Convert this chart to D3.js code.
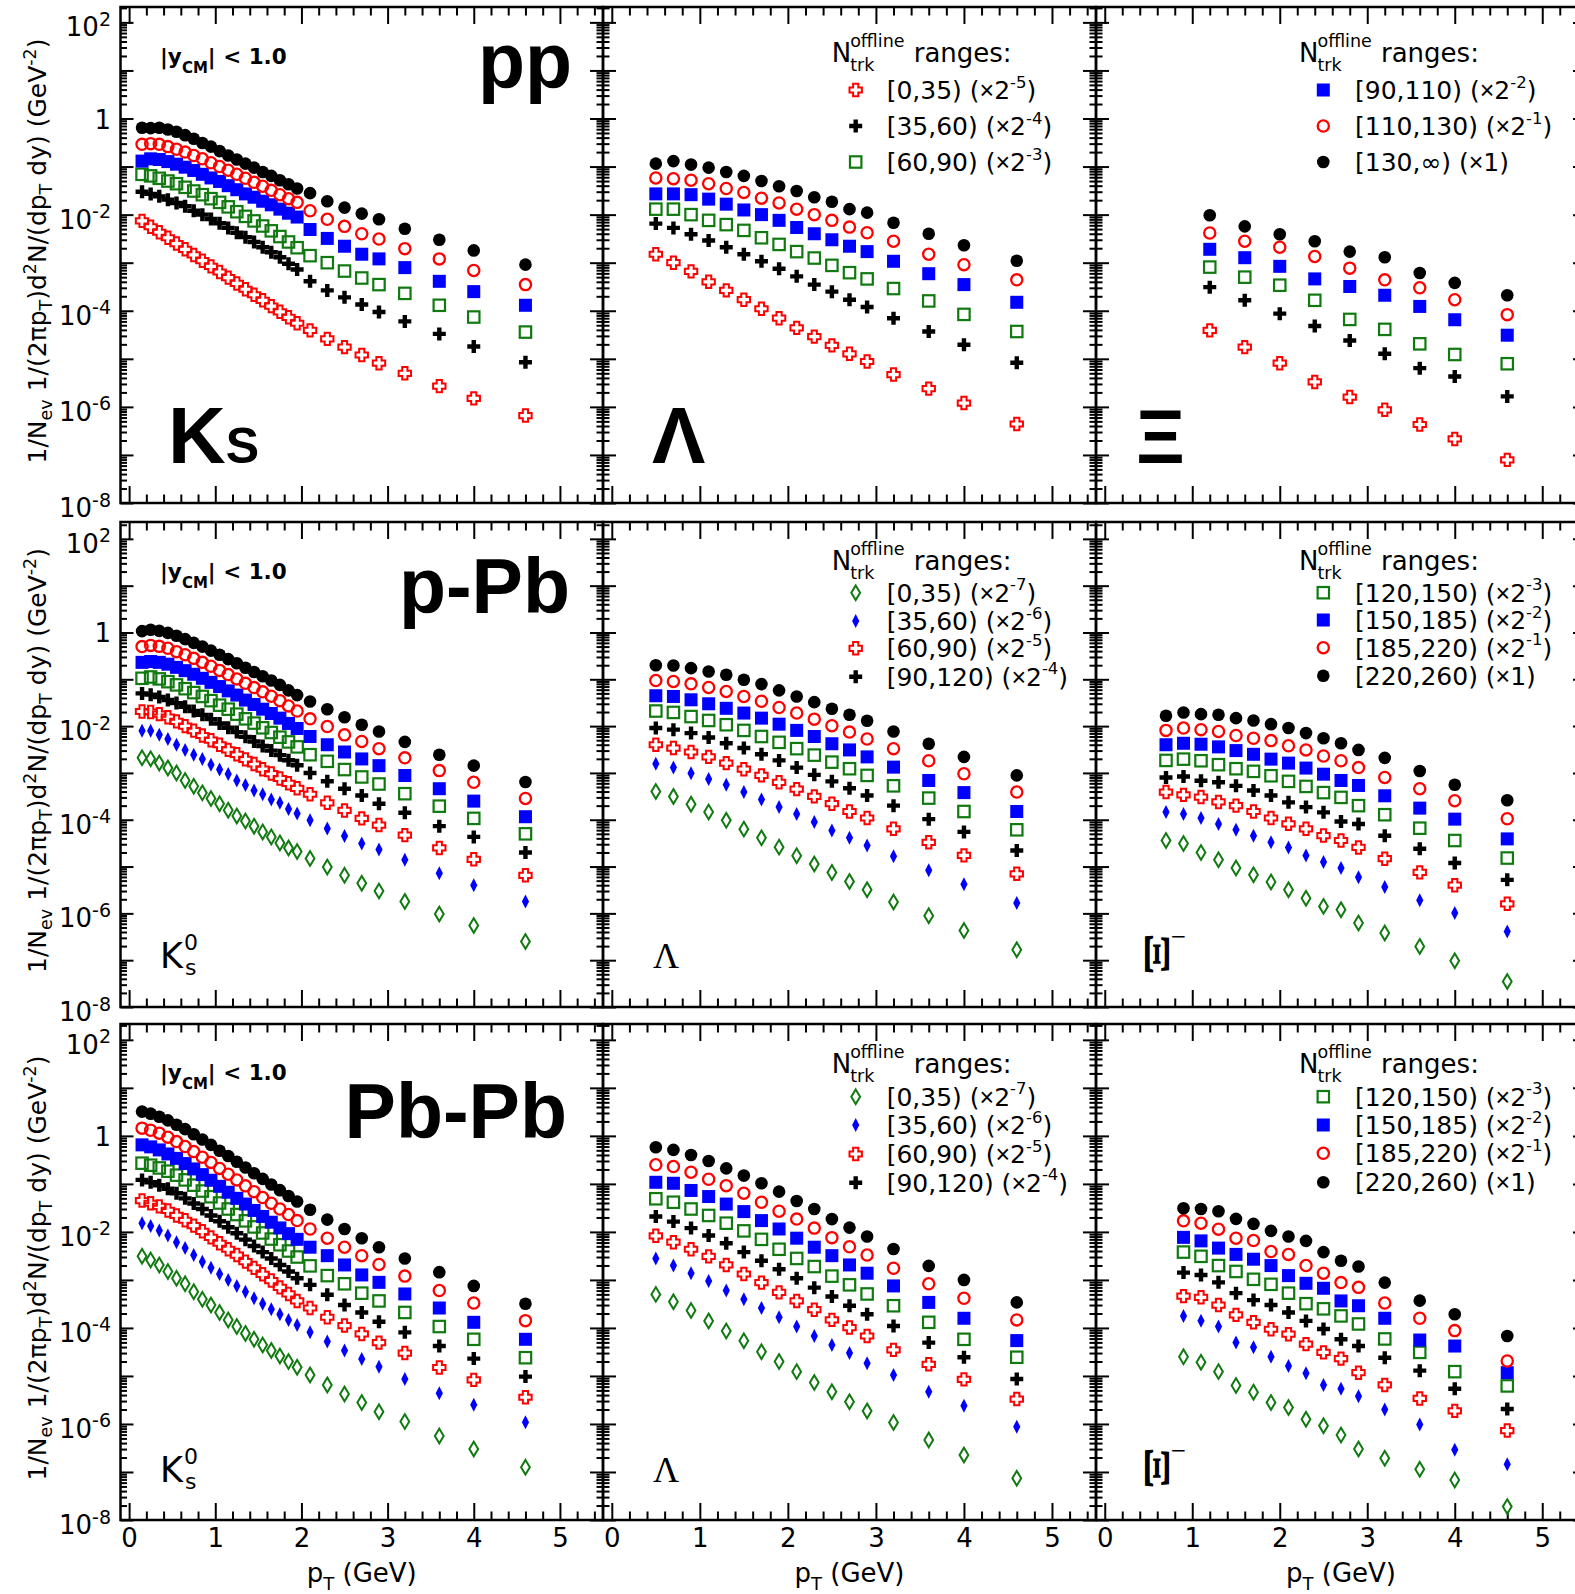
<!DOCTYPE html>
<html>
<head>
<meta charset="utf-8">
<script src="https://cdn.jsdelivr.net/npm/d3@7/dist/d3.min.js"></script>
<style>
  body { margin: 0; background: #fff; }
</style>
</head>
<body>
<svg id="chart"></svg>
<script>
/* pT spectra of K0s, Lambda and Xi in pp, p-Pb and Pb-Pb, per multiplicity class */

/*** pT bin centres (GeV) */
const ptK0s = [0.15,0.25,0.35,0.45,0.55,0.65,0.75,0.85,0.95,1.05,1.15,1.25,1.35,1.45,1.55,1.65,1.75,1.85,1.95,2.1,2.3,2.5,2.7,2.9,3.2,3.6,4.0,4.6];
const ptLam = [0.5,0.7,0.9,1.1,1.3,1.5,1.7,1.9,2.1,2.3,2.5,2.7,2.9,3.2,3.6,4.0,4.6];
const ptXiPP = [1.2,1.6,2.0,2.4,2.8,3.2,3.6,4.0,4.6];
const ptXiPPb = [0.7,0.9,1.1,1.3,1.5,1.7,1.9,2.1,2.3,2.5,2.7,2.9,3.2,3.6,4.0,4.6];
const ptXiPbPb = [0.9,1.1,1.3,1.5,1.7,1.9,2.1,2.3,2.5,2.7,2.9,3.2,3.6,4.0,4.6];

/*** pp, K0s (already scaled as in legend) */
const ppK0s_130 = [6.4e-1,6.3e-1,6.4e-1,5.9e-1,5.3e-1,4.5e-1,3.8e-1,3.1e-1,2.6e-1,2.1e-1,1.7e-1,1.4e-1,1.15e-1,9.5e-2,7.7e-2,6.4e-2,5.2e-2,4.3e-2,3.5e-2,2.8e-2,1.9e-2,1.4e-2,1.05e-2,8.0e-3,5.1e-3,3.0e-3,1.8e-3,9.1e-4];
const ppK0s_110 = [2.9e-1,3.0e-1,2.9e-1,2.6e-1,2.3e-1,2.0e-1,1.7e-1,1.45e-1,1.2e-1,1.0e-1,8.4e-2,6.9e-2,5.7e-2,4.7e-2,3.9e-2,3.2e-2,2.6e-2,2.15e-2,1.8e-2,1.2e-2,8.0e-3,5.7e-3,4.0e-3,3.1e-3,1.96e-3,1.2e-3,6.9e-4,3.5e-4];
const ppK0s_90 = [1.3e-1,1.45e-1,1.4e-1,1.27e-1,1.12e-1,9.7e-2,8.3e-2,6.9e-2,5.8e-2,4.9e-2,4.0e-2,3.3e-2,2.7e-2,2.3e-2,1.9e-2,1.6e-2,1.3e-2,1.07e-2,8.9e-3,4.9e-3,3.2e-3,2.2e-3,1.5e-3,1.2e-3,7.9e-4,4.1e-4,2.5e-4,1.3e-4];
const ppK0s_60 = [6.9e-2,6.4e-2,5.7e-2,5.0e-2,4.4e-2,3.7e-2,3.1e-2,2.6e-2,2.15e-2,1.8e-2,1.45e-2,1.15e-2,9.2e-3,7.4e-3,5.8e-3,4.6e-3,3.5e-3,2.7e-3,2.05e-3,1.4e-3,1.0e-3,6.7e-4,4.8e-4,3.5e-4,2.3e-4,1.3e-4,7.4e-5,3.6e-5];
const ppK0s_35 = [3.0e-2,2.7e-2,2.4e-2,2.05e-2,1.75e-2,1.5e-2,1.2e-2,1.0e-2,8.1e-3,6.6e-3,5.3e-3,4.2e-3,3.4e-3,2.7e-3,2.1e-3,1.65e-3,1.3e-3,9.5e-4,7.2e-4,4.1e-4,2.65e-4,1.9e-4,1.35e-4,9.4e-5,6.0e-5,3.3e-5,1.8e-5,8.5e-6];
const ppK0s_0 = [7.4e-3,5.6e-3,4.3e-3,3.3e-3,2.5e-3,1.9e-3,1.45e-3,1.1e-3,8.4e-4,6.4e-4,4.9e-4,3.7e-4,2.8e-4,2.15e-4,1.65e-4,1.25e-4,9.5e-5,7.3e-5,5.5e-5,3.9e-5,2.6e-5,1.75e-5,1.2e-5,8.1e-6,5.0e-6,2.7e-6,1.5e-6,6.6e-7];

/*** pp, Lambda */
const ppLam_130 = [1.15e-1,1.3e-1,1.1e-1,9.5e-2,7.7e-2,6.4e-2,5.0e-2,3.9e-2,3.1e-2,2.3e-2,1.85e-2,1.3e-2,1.1e-2,6.8e-3,4.0e-3,2.3e-3,1.1e-3];
const ppLam_110 = [5.8e-2,5.6e-2,5.2e-2,4.4e-2,3.5e-2,2.9e-2,2.2e-2,1.75e-2,1.3e-2,1.0e-2,7.6e-3,5.5e-3,4.2e-3,2.8e-3,1.5e-3,9.1e-4,4.4e-4];
const ppLam_90 = [2.7e-2,2.7e-2,2.6e-2,2.1e-2,1.65e-2,1.25e-2,1.0e-2,7.6e-3,5.4e-3,4.0e-3,3.0e-3,2.2e-3,1.7e-3,1.07e-3,5.9e-4,3.5e-4,1.5e-4];
const ppLam_60 = [1.3e-2,1.3e-2,1.0e-2,7.6e-3,6.2e-3,4.7e-3,3.3e-3,2.4e-3,1.7e-3,1.25e-3,8.8e-4,6.2e-4,4.6e-4,2.9e-4,1.6e-4,8.4e-5,3.7e-5];
const ppLam_35 = [6.5e-3,5.3e-3,3.9e-3,2.9e-3,2.1e-3,1.5e-3,1.07e-3,7.5e-4,5.2e-4,3.5e-4,2.5e-4,1.7e-4,1.2e-4,7.0e-5,3.7e-5,1.96e-5,8.3e-6];
const ppLam_0 = [1.5e-3,1.0e-3,6.6e-4,4.0e-4,2.65e-4,1.7e-4,1.1e-4,7.0e-5,4.4e-5,2.9e-5,1.9e-5,1.27e-5,8.8e-6,4.7e-6,2.4e-6,1.2e-6,4.4e-7];

/*** pp, Xi */
const ppXi_130 = [9.7e-3,5.7e-3,3.9e-3,2.8e-3,1.7e-3,1.3e-3,6.1e-4,3.8e-4,2.1e-4];
const ppXi_110 = [4.15e-3,2.8e-3,2.1e-3,1.35e-3,7.7e-4,4.4e-4,3.0e-4,1.7e-4,8.3e-5];
const ppXi_90 = [1.9e-3,1.27e-3,8.4e-4,4.6e-4,3.2e-4,2.1e-4,1.23e-4,6.5e-5,3.1e-5];
const ppXi_60 = [8.1e-4,5.0e-4,3.4e-4,1.65e-4,6.6e-5,4.1e-5,2.05e-5,1.23e-5,7.9e-6];
const ppXi_35 = [3.1e-4,1.65e-4,8.7e-5,4.8e-5,2.4e-5,1.27e-5,6.4e-6,4.3e-6,1.65e-6];
const ppXi_0 = [3.9e-5,1.75e-5,8.1e-6,3.3e-6,1.6e-6,8.7e-7,4.3e-7,2.15e-7,7.9e-8];

/*** p-Pb, K0s */
const pPbK0s_220 = [1.07,1.14,1.08,9.8e-1,8.5e-1,7.2e-1,6.0e-1,5.0e-1,4.1e-1,3.35e-1,2.7e-1,2.2e-1,1.77e-1,1.43e-1,1.16e-1,9.4e-2,7.6e-2,5.8e-2,4.6e-2,3.35e-2,2.3e-2,1.55e-2,1.07e-2,7.7e-3,4.6e-3,2.45e-3,1.43e-3,6.4e-4];
const pPbK0s_185 = [5.0e-1,5.3e-1,5.05e-1,4.6e-1,3.9e-1,3.35e-1,2.8e-1,2.3e-1,1.9e-1,1.55e-1,1.26e-1,1.02e-1,8.2e-2,6.65e-2,5.4e-2,4.35e-2,3.5e-2,2.7e-2,2.1e-2,1.43e-2,9.8e-3,6.5e-3,4.7e-3,3.3e-3,2.1e-3,1.12e-3,6.3e-4,2.85e-4];
const pPbK0s_150 = [2.3e-1,2.4e-1,2.3e-1,2.1e-1,1.8e-1,1.53e-1,1.28e-1,1.05e-1,8.6e-2,7.0e-2,5.65e-2,4.6e-2,3.6e-2,2.9e-2,2.3e-2,1.86e-2,1.48e-2,1.14e-2,8.9e-3,6.0e-3,4.0e-3,2.8e-3,1.99e-3,1.43e-3,8.8e-4,4.6e-4,2.5e-4,1.16e-4];
const pPbK0s_120 = [1.05e-1,1.12e-1,1.02e-1,8.9e-2,7.6e-2,6.3e-2,5.2e-2,4.3e-2,3.5e-2,2.8e-2,2.3e-2,1.8e-2,1.43e-2,1.16e-2,9.2e-3,7.3e-3,5.8e-3,4.6e-3,3.6e-3,2.45e-3,1.77e-3,1.18e-3,8.2e-4,5.8e-4,3.6e-4,1.95e-4,1.07e-4,5.0e-5];
const pPbK0s_90 = [5.0e-2,4.7e-2,4.2e-2,3.6e-2,3.1e-2,2.6e-2,2.1e-2,1.74e-2,1.41e-2,1.14e-2,9.2e-3,7.45e-3,5.9e-3,4.7e-3,3.75e-3,3.0e-3,2.4e-3,1.86e-3,1.46e-3,1.0e-3,6.65e-4,4.6e-4,3.3e-4,2.2e-4,1.41e-4,7.3e-5,4.3e-5,1.99e-5];
const pPbK0s_60 = [2.05e-2,2.0e-2,1.8e-2,1.55e-2,1.26e-2,1.0e-2,8.0e-3,6.3e-3,5.0e-3,4.0e-3,3.1e-3,2.5e-3,1.95e-3,1.55e-3,1.2e-3,9.7e-4,7.6e-4,6.0e-4,4.7e-4,3.5e-4,2.3e-4,1.58e-4,1.07e-4,7.7e-5,4.7e-5,2.5e-5,1.43e-5,6.5e-6];
const pPbK0s_35 = [8.0e-3,8.0e-3,6.5e-3,5.3e-3,4.0e-3,3.1e-3,2.45e-3,1.99e-3,1.5e-3,1.18e-3,9.5e-4,6.9e-4,5.5e-4,4.2e-4,3.5e-4,2.7e-4,2.3e-4,1.7e-4,1.36e-4,9.8e-5,6.5e-5,4.5e-5,3.1e-5,2.3e-5,1.39e-5,7.2e-6,4.0e-6,1.8e-6];
const pPbK0s_0 = [2.1e-3,2.0e-3,1.63e-3,1.28e-3,1.0e-3,6.9e-4,5.2e-4,3.75e-4,2.85e-4,2.2e-4,1.6e-4,1.2e-4,9.4e-5,7.3e-5,5.5e-5,4.3e-5,3.2e-5,2.5e-5,2.1e-5,1.48e-5,9.8e-6,6.5e-6,4.4e-6,3.0e-6,1.8e-6,9.7e-7,5.5e-7,2.5e-7];

/*** p-Pb, Lambda */
const pPbLam_220 = [2.0e-1,1.97e-1,1.73e-1,1.47e-1,1.25e-1,9.75e-2,7.9e-2,5.8e-2,4.3e-2,3.25e-2,2.35e-2,1.75e-2,1.3e-2,7.7e-3,4.2e-3,2.2e-3,8.85e-4];
const pPbLam_185 = [9.4e-2,9.0e-2,8.0e-2,6.7e-2,5.5e-2,4.3e-2,3.4e-2,2.5e-2,1.9e-2,1.41e-2,1.02e-2,7.45e-3,5.3e-3,3.3e-3,1.82e-3,9.6e-4,3.9e-4];
const pPbLam_150 = [4.45e-2,4.3e-2,3.65e-2,3.0e-2,2.4e-2,1.9e-2,1.48e-2,1.1e-2,8.1e-3,6.0e-3,4.2e-3,3.1e-3,2.2e-3,1.33e-3,6.9e-4,3.8e-4,1.5e-4];
const pPbLam_120 = [2.1e-2,1.96e-2,1.6e-2,1.32e-2,1.07e-2,8.1e-3,6.0e-3,4.5e-3,3.3e-3,2.4e-3,1.7e-3,1.23e-3,8.85e-4,5.3e-4,2.9e-4,1.5e-4,6.1e-5];
const pPbLam_90 = [9.1e-3,8.4e-3,7.1e-3,5.7e-3,4.3e-3,3.4e-3,2.5e-3,1.85e-3,1.3e-3,9.1e-4,6.6e-4,4.7e-4,3.3e-4,2.0e-4,1.03e-4,5.5e-5,2.2e-5];
const pPbLam_60 = [4.0e-3,3.4e-3,2.8e-3,2.2e-3,1.62e-3,1.2e-3,8.85e-4,6.3e-4,4.5e-4,3.15e-4,2.2e-4,1.5e-4,1.09e-4,6.4e-5,3.3e-5,1.73e-5,7.0e-6];
const pPbLam_35 = [1.57e-3,1.3e-3,9.9e-4,7.4e-4,5.6e-4,3.9e-4,2.7e-4,1.86e-4,1.32e-4,8.9e-5,5.9e-5,4.1e-5,2.8e-5,1.65e-5,8.3e-6,4.2e-6,1.66e-6];
const pPbLam_0 = [4.0e-4,3.15e-4,2.15e-4,1.46e-4,9.7e-5,6.3e-5,4.1e-5,2.6e-5,1.7e-5,1.13e-5,7.5e-6,4.8e-6,3.2e-6,1.75e-6,8.9e-7,4.3e-7,1.67e-7];

/*** p-Pb, Xi */
const pPbXi_220 = [1.66e-2,1.96e-2,1.8e-2,1.75e-2,1.48e-2,1.32e-2,1.1e-2,9.1e-3,7.1e-3,5.5e-3,4.3e-3,3.1e-3,2.1e-3,1.1e-3,5.6e-4,2.6e-4];
const pPbXi_185 = [8.1e-3,9.1e-3,8.4e-3,7.7e-3,6.3e-3,5.5e-3,4.9e-3,3.8e-3,3.1e-3,2.3e-3,1.82e-3,1.3e-3,8.0e-4,4.6e-4,2.55e-4,1.05e-4];
const pPbXi_150 = [4.0e-3,4.3e-3,4.1e-3,3.6e-3,3.0e-3,2.5e-3,1.97e-3,1.62e-3,1.27e-3,9.4e-4,6.9e-4,5.4e-4,3.25e-4,1.77e-4,1.03e-4,3.9e-5];
const pPbXi_120 = [1.85e-3,1.97e-3,1.82e-3,1.5e-3,1.23e-3,1.08e-3,8.7e-4,6.6e-4,5.15e-4,3.8e-4,3.0e-4,2.0e-4,1.28e-4,6.6e-5,3.6e-5,1.52e-5];
const pPbXi_90 = [8.0e-4,8.4e-4,6.8e-4,6.3e-4,5.3e-4,4.2e-4,3.3e-4,2.35e-4,1.86e-4,1.44e-4,9.2e-5,8.1e-5,4.55e-5,2.4e-5,1.19e-5,5.2e-6];
const pPbXi_60 = [3.9e-4,3.4e-4,3.05e-4,2.4e-4,2.0e-4,1.5e-4,1.09e-4,8.2e-5,6.4e-5,4.6e-5,3.6e-5,2.56e-5,1.47e-5,7.5e-6,4.0e-6,1.6e-6];
const pPbXi_35 = [1.46e-4,1.32e-4,1.09e-4,8.1e-5,6.1e-5,4.55e-5,3.3e-5,2.56e-5,1.73e-5,1.25e-5,9.3e-6,5.9e-6,3.65e-6,1.9e-6,1.02e-6,4.1e-7];
const pPbXi_0 = [3.6e-5,3.1e-5,2.0e-5,1.4e-5,9.3e-6,6.7e-6,4.7e-6,3.2e-6,2.1e-6,1.41e-6,1.2e-6,6.2e-7,3.8e-7,1.97e-7,9.75e-8,3.5e-8];

/*** Pb-Pb, K0s */
const PbPbK0s_220 = [3.2,2.9,2.5,2.1,1.7,1.38,1.08,8.4e-1,6.5e-1,4.9e-1,3.8e-1,2.9e-1,2.2e-1,1.67e-1,1.27e-1,9.7e-2,7.4e-2,5.6e-2,4.3e-2,2.9e-2,1.8e-2,1.15e-2,7.4e-3,4.8e-3,2.8e-3,1.45e-3,7.5e-4,3.2e-4];
const PbPbK0s_185 = [1.45,1.31,1.14,9.4e-1,7.6e-1,6.0e-1,4.7e-1,3.6e-1,2.8e-1,2.1e-1,1.59e-1,1.21e-1,9.1e-2,6.9e-2,5.2e-2,3.95e-2,3.0e-2,2.3e-2,1.72e-2,1.15e-2,7.4e-3,4.8e-3,3.2e-3,2.1e-3,1.2e-3,6.0e-4,3.3e-4,1.42e-4];
const PbPbK0s_150 = [6.5e-1,5.9e-1,5.1e-1,4.2e-1,3.4e-1,2.65e-1,2.05e-1,1.56e-1,1.19e-1,8.9e-2,6.7e-2,5.0e-2,3.8e-2,2.8e-2,2.1e-2,1.59e-2,1.21e-2,9.2e-3,7.0e-3,4.8e-3,3.2e-3,2.05e-3,1.27e-3,8.9e-4,5.1e-4,2.6e-4,1.31e-4,5.8e-5];
const PbPbK0s_120 = [2.7e-1,2.45e-1,2.15e-1,1.84e-1,1.52e-1,1.21e-1,9.4e-2,7.1e-2,5.4e-2,4.0e-2,3.0e-2,2.3e-2,1.7e-2,1.27e-2,9.5e-3,7.1e-3,5.4e-3,4.0e-3,3.0e-3,1.96e-3,1.23e-3,8.3e-4,5.3e-4,3.65e-4,2.1e-4,1.07e-4,5.8e-5,2.4e-5];
const PbPbK0s_90 = [1.21e-1,1.08e-1,9.4e-2,7.9e-2,6.4e-2,5.0e-2,3.9e-2,3.0e-2,2.2e-2,1.67e-2,1.25e-2,9.4e-3,6.9e-3,5.1e-3,3.8e-3,2.8e-3,2.05e-3,1.5e-3,1.08e-3,7.9e-4,4.9e-4,3.0e-4,2.1e-4,1.35e-4,8.1e-5,4.2e-5,2.3e-5,9.7e-6];
const PbPbK0s_60 = [4.5e-2,3.95e-2,3.4e-2,2.8e-2,2.2e-2,1.75e-2,1.35e-2,1.03e-2,7.7e-3,5.8e-3,4.35e-3,3.3e-3,2.4e-3,1.78e-3,1.31e-3,9.7e-4,7.0e-4,5.1e-4,3.65e-4,2.6e-4,1.67e-4,1.12e-4,7.5e-5,4.95e-5,3.0e-5,1.5e-5,8.3e-6,3.6e-6];
const PbPbK0s_35 = [1.52e-2,1.33e-2,1.07e-2,8.4e-3,6.1e-3,4.6e-3,3.3e-3,2.4e-3,1.8e-3,1.33e-3,1.0e-3,7.5e-4,5.7e-4,4.15e-4,3.2e-4,2.45e-4,1.93e-4,1.47e-4,1.15e-4,8.1e-5,5.2e-5,3.4e-5,2.26e-5,1.56e-5,8.65e-6,4.35e-6,2.5e-6,1.08e-6];
const PbPbK0s_0 = [3.1e-3,2.6e-3,2.05e-3,1.5e-3,1.08e-3,8.3e-4,5.7e-4,3.95e-4,3.0e-4,2.1e-4,1.47e-4,1.07e-4,7.7e-5,5.8e-5,4.4e-5,3.4e-5,2.6e-5,1.99e-5,1.52e-5,1.05e-5,6.5e-6,4.2e-6,2.8e-6,1.8e-6,1.12e-6,5.6e-7,3.0e-7,1.25e-7];

/*** Pb-Pb, Lambda */
const PbPbLam_220 = [5.8e-1,5.1e-1,4.0e-1,3.0e-1,2.1e-1,1.49e-1,1.03e-1,6.9e-2,4.4e-2,3.0e-2,1.85e-2,1.23e-2,8.0e-3,4.4e-3,1.96e-3,1.0e-3,3.4e-4];
const PbPbLam_185 = [2.5e-1,2.3e-1,1.75e-1,1.25e-1,9.2e-2,6.4e-2,4.15e-2,2.7e-2,1.85e-2,1.2e-2,7.6e-3,4.9e-3,3.3e-3,1.75e-3,8.3e-4,4.15e-4,1.47e-4];
const PbPbLam_150 = [1.08e-1,1.03e-1,7.3e-2,5.45e-2,3.8e-2,2.65e-2,1.72e-2,1.15e-2,7.4e-3,4.8e-3,3.2e-3,2.05e-3,1.38e-3,7.5e-4,3.4e-4,1.59e-4,5.45e-5];
const PbPbLam_120 = [4.9e-2,4.15e-2,3.0e-2,2.2e-2,1.52e-2,1.05e-2,7.0e-3,4.35e-3,2.8e-3,1.9e-3,1.2e-3,7.9e-4,5.1e-4,2.9e-4,1.31e-4,5.8e-5,2.45e-5];
const PbPbLam_90 = [2.1e-2,1.64e-2,1.2e-2,8.4e-3,5.8e-3,3.8e-3,2.5e-3,1.67e-3,1.08e-3,6.9e-4,4.5e-4,2.9e-4,1.93e-4,1.1e-4,4.95e-5,2.45e-5,8.65e-6];
const PbPbLam_60 = [8.3e-3,6.1e-3,4.35e-3,3.1e-3,2.05e-3,1.33e-3,8.8e-4,5.5e-4,3.65e-4,2.4e-4,1.47e-4,1.02e-4,6.8e-5,3.5e-5,1.75e-5,8.5e-6,3.3e-6];
const PbPbLam_35 = [2.8e-3,1.99e-3,1.38e-3,9.5e-4,6.0e-4,3.95e-4,2.6e-4,1.67e-4,1.07e-4,6.8e-5,4.4e-5,3.0e-5,1.84e-5,1.05e-5,4.7e-6,2.4e-6,8.8e-7];
const PbPbLam_0 = [5.0e-4,3.5e-4,2.3e-4,1.4e-4,8.65e-5,5.4e-5,3.2e-5,1.99e-5,1.23e-5,7.3e-6,4.7e-6,2.9e-6,1.87e-6,1.07e-6,4.65e-7,2.26e-7,7.4e-8];

/*** Pb-Pb, Xi */
const PbPbXi_220 = [3.1e-2,3.0e-2,2.7e-2,1.87e-2,1.47e-2,1.05e-2,8.0e-3,6.5e-3,3.8e-3,2.5e-3,1.9e-3,8.8e-4,3.7e-4,1.93e-4,6.8e-5];
const PbPbXi_185 = [1.7e-2,1.52e-2,1.14e-2,7.4e-3,6.6e-3,3.9e-3,3.4e-3,1.99e-3,1.38e-3,8.8e-4,7.0e-4,3.3e-4,1.59e-4,8.8e-5,2.05e-5];
const PbPbXi_150 = [7.7e-3,6.5e-3,4.6e-3,3.4e-3,2.7e-3,1.99e-3,1.23e-3,8.5e-4,6.7e-4,3.65e-4,2.9e-4,1.59e-4,5.6e-5,4.2e-5,1.17e-5];
const PbPbXi_120 = [3.8e-3,3.1e-3,1.99e-3,1.5e-3,1.03e-3,8.1e-4,5.3e-4,3.2e-4,2.5e-4,1.78e-4,1.21e-4,5.9e-5,3.1e-5,1.23e-5,6.2e-6];
const PbPbXi_90 = [1.42e-3,1.27e-3,8.9e-4,5.3e-4,3.8e-4,3.0e-4,2.1e-4,1.4e-4,9.5e-5,5.8e-5,4.2e-5,2.4e-5,1.29e-5,5.4e-6,2.05e-6];
const PbPbXi_60 = [4.6e-4,4.35e-4,3.0e-4,1.87e-4,1.31e-4,9.4e-5,7.4e-5,4.6e-5,3.1e-5,2.3e-5,1.17e-5,6.5e-6,3.4e-6,1.87e-6,7.3e-7];
const PbPbXi_35 = [1.78e-4,1.42e-4,1.07e-4,5.0e-5,3.95e-5,2.5e-5,1.61e-5,1.14e-5,6.5e-6,5.4e-6,3.8e-6,2.0e-6,9.8e-7,2.9e-7,1.45e-7];
const PbPbXi_0 = [2.5e-5,1.93e-5,1.23e-5,6.3e-6,4.6e-6,2.8e-6,2.2e-6,1.25e-6,9.2e-7,5.9e-7,3.0e-7,1.93e-7,1.14e-7,6.8e-8,1.9e-8];

/*** legend entries: marker, Ntrk range, power of 2 (null = x1) */
const legendPPa = [["ocross","[0,35)","-5"],["fcross","[35,60)","-4"],["osquare","[60,90)","-3"]];
const legendPPb = [["fsquare","[90,110)","-2"],["ocircle","[110,130)","-1"],["fcircle","[130,\u221e)",null]];
const legendAAa = [["odiamond","[0,35)","-7"],["fdiamond","[35,60)","-6"],["ocross","[60,90)","-5"],["fcross","[90,120)","-4"]];
const legendAAb = [["osquare","[120,150)","-3"],["fsquare","[150,185)","-2"],["ocircle","[185,220)","-1"],["fcircle","[220,260)",null]];

/*** panel contents (row, column, pT bins, series drawn back to front) */
const panels = [
  {row: 0, col: 0, pt: ptK0s, series: [[ppK0s_0,"ocross"],[ppK0s_35,"fcross"],[ppK0s_60,"osquare"],[ppK0s_90,"fsquare"],[ppK0s_110,"ocircle"],[ppK0s_130,"fcircle"]]},
  {row: 0, col: 1, pt: ptLam, series: [[ppLam_0,"ocross"],[ppLam_35,"fcross"],[ppLam_60,"osquare"],[ppLam_90,"fsquare"],[ppLam_110,"ocircle"],[ppLam_130,"fcircle"]]},
  {row: 0, col: 2, pt: ptXiPP, series: [[ppXi_0,"ocross"],[ppXi_35,"fcross"],[ppXi_60,"osquare"],[ppXi_90,"fsquare"],[ppXi_110,"ocircle"],[ppXi_130,"fcircle"]]},
  {row: 1, col: 0, pt: ptK0s, series: [[pPbK0s_0,"odiamond"],[pPbK0s_35,"fdiamond"],[pPbK0s_60,"ocross"],[pPbK0s_90,"fcross"],[pPbK0s_120,"osquare"],[pPbK0s_150,"fsquare"],[pPbK0s_185,"ocircle"],[pPbK0s_220,"fcircle"]]},
  {row: 1, col: 1, pt: ptLam, series: [[pPbLam_0,"odiamond"],[pPbLam_35,"fdiamond"],[pPbLam_60,"ocross"],[pPbLam_90,"fcross"],[pPbLam_120,"osquare"],[pPbLam_150,"fsquare"],[pPbLam_185,"ocircle"],[pPbLam_220,"fcircle"]]},
  {row: 1, col: 2, pt: ptXiPPb, series: [[pPbXi_0,"odiamond"],[pPbXi_35,"fdiamond"],[pPbXi_60,"ocross"],[pPbXi_90,"fcross"],[pPbXi_120,"osquare"],[pPbXi_150,"fsquare"],[pPbXi_185,"ocircle"],[pPbXi_220,"fcircle"]]},
  {row: 2, col: 0, pt: ptK0s, series: [[PbPbK0s_0,"odiamond"],[PbPbK0s_35,"fdiamond"],[PbPbK0s_60,"ocross"],[PbPbK0s_90,"fcross"],[PbPbK0s_120,"osquare"],[PbPbK0s_150,"fsquare"],[PbPbK0s_185,"ocircle"],[PbPbK0s_220,"fcircle"]]},
  {row: 2, col: 1, pt: ptLam, series: [[PbPbLam_0,"odiamond"],[PbPbLam_35,"fdiamond"],[PbPbLam_60,"ocross"],[PbPbLam_90,"fcross"],[PbPbLam_120,"osquare"],[PbPbLam_150,"fsquare"],[PbPbLam_185,"ocircle"],[PbPbLam_220,"fcircle"]]},
  {row: 2, col: 2, pt: ptXiPbPb, series: [[PbPbXi_0,"odiamond"],[PbPbXi_35,"fdiamond"],[PbPbXi_60,"ocross"],[PbPbXi_90,"fcross"],[PbPbXi_120,"osquare"],[PbPbXi_150,"fsquare"],[PbPbXi_185,"ocircle"],[PbPbXi_220,"fcircle"]]}
];

/****************************************
*** layout
*****************************************/
const W = 1575, H = 1594;
const SANS = "'DejaVu Sans', sans-serif";
const HELV = "'Liberation Sans', Arial, sans-serif";
const SERIF = "'Liberation Serif', 'DejaVu Serif', serif";
const RED = "#ff0000", BLUE = "#0000ff", GREEN = "#107a10";

const colFrames = [[120.5, 603], [603, 1096], [1096, 1586]];
const rowFrames = [[7, 503], [522, 1007], [1024, 1520]];
const rowTop = [Math.pow(10, 2.32), Math.pow(10, 2.36), Math.pow(10, 2.33)];

const svg = d3.select("#chart").attr("width", W).attr("height", H);
svg.append("rect").attr("width", W).attr("height", H).attr("fill", "#fff");

const plus = (a, b) => `M${-b},${-a}H${b}V${-b}H${a}V${b}H${b}V${a}H${-b}V${b}H${-a}V${-b}H${-b}Z`;
const markers = {
  fcircle: g => g.append("circle").attr("r", 6.3).attr("fill", "#000"),
  ocircle: g => g.append("circle").attr("r", 5.6).attr("fill", "none").attr("stroke", RED).attr("stroke-width", 2.3),
  fsquare: g => g.append("rect").attr("x", -6.5).attr("y", -6.5).attr("width", 13).attr("height", 13).attr("fill", BLUE),
  osquare: g => g.append("rect").attr("x", -5.7).attr("y", -5.7).attr("width", 11.4).attr("height", 11.4)
      .attr("fill", "none").attr("stroke", GREEN).attr("stroke-width", 2.2),
  fcross: g => g.append("path").attr("d", plus(6.5, 2.2)).attr("fill", "#000"),
  ocross: g => g.append("path").attr("d", plus(6.2, 2.6)).attr("fill", "none").attr("stroke", RED).attr("stroke-width", 2),
  fdiamond: g => g.append("path").attr("d", "M0,-7L3.6,0L0,7L-3.6,0Z").attr("fill", BLUE),
  odiamond: g => g.append("path").attr("d", "M0,-7.3L4.4,0L0,7.3L-4.4,0Z").attr("fill", "none").attr("stroke", GREEN).attr("stroke-width", 2)
};

/*** text with sub/superscripts: parts = [[string, "sup"|"sub"|null, font], ...] */
function rich(parent, x, y, parts, o) {
  const t = parent.append("text").attr("x", x).attr("y", y)
    .attr("font-family", o.family || SANS).attr("font-size", o.size)
    .attr("font-weight", o.weight || "normal").attr("text-anchor", o.anchor || "start");
  if (o.transform) t.attr("transform", o.transform);
  let cur = 0;
  parts.forEach(([s, m, fam]) => {
    const target = m === "sup" ? o.sup : m === "sub" ? o.sub : 0;
    const ts = t.append("tspan").attr("dy", target - cur).attr("font-size", m ? o.small : o.size).text(s);
    if (fam) ts.attr("font-family", fam);
    cur = target;
  });
  return t;
}

const xMajor = [0, 1, 2, 3, 4, 5];
const xMinor = d3.range(1, 28).map(i => +(i * 0.2).toFixed(1)).filter(v => v % 1 !== 0);
const yMajor = d3.range(-8, 3).map(e => Math.pow(10, e));
const yMinor = [];
d3.range(-8, 3).forEach(e => d3.range(2, 10).forEach(m => yMinor.push(m * Math.pow(10, e))));

/****************************************
*** panels
*****************************************/
panels.forEach(p => {
  const [x0, x1] = colFrames[p.col], [y0, y1] = rowFrames[p.row];
  const x = d3.scaleLinear().domain([-0.1, 5.5]).range([x0, x1]);
  const y = d3.scaleLog().domain([1e-8, rowTop[p.row]]).range([y1, y0]);
  const inY = v => v >= 1e-8 * 0.999 && v <= rowTop[p.row];
  const g = svg.append("g");

  const ticks = (axis, vals, size, tx, ty) => g.append("g")
      .attr("transform", `translate(${tx},${ty})`)
      .call(axis.tickValues(vals).tickSize(size).tickFormat(""))
      .call(a => a.select(".domain").remove())
      .call(a => a.selectAll("line").attr("stroke-width", 2));

  ticks(d3.axisBottom(x), xMajor, -17, 0, y1);
  ticks(d3.axisBottom(x), xMinor, -8.5, 0, y1);
  ticks(d3.axisTop(x), xMajor, -17, 0, y0);
  ticks(d3.axisTop(x), xMinor, -8.5, 0, y0);
  ticks(d3.axisLeft(y), yMajor.filter(inY), -13, x0, 0);
  ticks(d3.axisLeft(y), yMinor.filter(inY), -6.5, x0, 0);
  ticks(d3.axisRight(y), yMajor.filter(inY), -13, x1, 0);
  ticks(d3.axisRight(y), yMinor.filter(inY), -6.5, x1, 0);

  g.append("rect").attr("x", x0).attr("y", y0).attr("width", x1 - x0).attr("height", y1 - y0)
    .attr("fill", "none").attr("stroke", "#000").attr("stroke-width", 2.5);

  // x labels only on the bottom row
  if (p.row === 2) {
    g.append("g").attr("transform", `translate(0,${y1})`)
      .call(d3.axisBottom(x).tickValues(xMajor).tickSize(0).tickPadding(9).tickFormat(d3.format("d")))
      .call(a => a.select(".domain").remove())
      .attr("font-size", 26).attr("font-family", SANS);
    rich(g, x(2.7), 1582, [["p"], ["T", "sub"], [" (GeV)"]], {size: 26, small: 18, sub: 8, sup: 0, anchor: "middle"});
  }

  // y labels only on the left column
  if (p.col === 0) {
    [2, 0, -2, -4, -6, -8].forEach(e => {
      const ty = y(Math.pow(10, e));
      if (e === 0) {
        g.append("text").attr("x", 111).attr("y", ty + 10).attr("text-anchor", "end")
          .attr("font-family", SANS).attr("font-size", 26).text("1");
      } else {
        rich(g, 111, ty + 14, [["10"], [String(e), "sup"]], {size: 26, small: 19, sup: -10.5, sub: 0, anchor: "end"});
      }
    });
    const cy = (y0 + y1) / 2 - 4;
    rich(g, 46, cy, [["1/N"], ["ev", "sub"], [" 1/(2\u03c0p"], ["T", "sub"], [")d"], ["2", "sup"], ["N/(dp"], ["T", "sub"], [" dy) (GeV"], ["-2", "sup"], [")"]],
      {size: 25, small: 17.5, sub: 6, sup: -10, anchor: "middle", transform: `rotate(-90,46,${cy})`});
  }

  /*** appending the points */
  p.series.forEach(([vals, m]) => {
    const pts = g.append("g").selectAll("g")
      .data(d3.zip(p.pt, vals))
      .join("g")
      .attr("transform", d => `translate(${x(d[0])},${y(d[1])})`);
    markers[m](pts);
  });
});

/****************************************
*** legends
*****************************************/
const legendPlaces = [
  {items: legendPPa, nx: 831.7, ty: 62, mx: 855.7, tx: 886.7, ys: [90, 126, 162]},
  {items: legendPPb, nx: 1299, ty: 62, mx: 1323.3, tx: 1355, ys: [90, 126, 162]},
  {items: legendAAa, nx: 831.7, ty: 570, mx: 855.7, tx: 886.7, ys: [592.7, 621, 648.3, 676.7]},
  {items: legendAAb, nx: 1299, ty: 570, mx: 1323.3, tx: 1355, ys: [592.7, 620, 647.7, 675.7]},
  {items: legendAAa, nx: 831.7, ty: 1073, mx: 855.7, tx: 886.7, ys: [1096.7, 1125, 1154, 1182.7]},
  {items: legendAAb, nx: 1299, ty: 1073, mx: 1323.3, tx: 1355, ys: [1096.7, 1125, 1153.3, 1182.3]}
];
legendPlaces.forEach(L => {
  const g = svg.append("g");
  const n = g.append("text").attr("x", L.nx).attr("y", L.ty).attr("font-family", SANS).attr("font-size", 26).text("N");
  const nw = n.node().getComputedTextLength();
  g.append("text").attr("x", L.nx + nw - 1).attr("y", L.ty - 15).attr("font-family", SANS).attr("font-size", 17.5).text("offline");
  g.append("text").attr("x", L.nx + nw - 1).attr("y", L.ty + 9).attr("font-family", SANS).attr("font-size", 17.5).text("trk");
  g.append("text").attr("x", L.nx + 82).attr("y", L.ty).attr("font-family", SANS).attr("font-size", 26).text("ranges:");
  L.items.forEach(([m, range, pw], i) => {
    const yy = L.ys[i];
    markers[m](g.append("g").attr("transform", `translate(${L.mx},${yy})`));
    const parts = pw === null
      ? [[range + " ("], ["\u00d7", null, HELV], ["1)"]]
      : [[range + " ("], ["\u00d7", null, HELV], ["2"], [pw, "sup"], [")"]];
    rich(g, L.tx, yy + 9, parts, {size: 25, small: 16.5, sup: -11.5, sub: 0});
  });
});

/****************************************
*** annotations
*****************************************/
const ann = svg.append("g");
const systems = [["pp", 88, 572], ["p-Pb", 613, 570], ["Pb-Pb", 1138, 567]];
const cutY = [64, 579, 1080];
systems.forEach(([name, by, ex], r) => {
  ann.append("text").attr("x", ex).attr("y", by).attr("text-anchor", "end")
    .attr("font-family", HELV).attr("font-weight", "bold").attr("font-size", 77).text(name);
  rich(ann, 160, cutY[r], [["|y"], ["CM", "sub"], ["| < 1.0"]],
    {size: 21.5, small: 15, sub: 9, sup: 0, weight: "bold"});
});

// pp row: big bold particle names
rich(ann, 168, 463, [["K"], ["S", "sup"]], {size: 80, small: 50, sup: 0, sub: 0, weight: "bold", family: HELV});
ann.append("text").attr("x", 652).attr("y", 463).attr("font-family", HELV).attr("font-weight", "bold").attr("font-size", 80).text("\u039b");
ann.append("text").attr("x", 1136).attr("y", 463).attr("font-family", HELV).attr("font-weight", "bold").attr("font-size", 76).text("\u039e");

// p-Pb and Pb-Pb rows: K0s, Lambda, Xi-
[968, 1482].forEach(base => {
  ann.append("text").attr("x", 160).attr("y", base).attr("font-family", SANS).attr("font-size", 35).text("K");
  ann.append("text").attr("x", 184).attr("y", base - 18).attr("font-family", SANS).attr("font-size", 22).text("0");
  ann.append("text").attr("x", 185).attr("y", base + 7).attr("font-family", SANS).attr("font-size", 22).text("s");
  ann.append("text").attr("x", 653).attr("y", base).attr("font-family", SERIF).attr("font-size", 36).text("\u039b");
  const cy = base - 14;
  ann.append("g").attr("transform", `translate(1157.5,${cy}) rotate(90) scale(1.75,1)`)
    .append("text").attr("x", 0).attr("y", 0).attr("text-anchor", "middle").attr("dominant-baseline", "central")
    .attr("font-family", SERIF).attr("font-weight", "bold").attr("font-size", 36).text("\u039e");
  ann.append("text").attr("x", 1170).attr("y", base - 25).attr("font-family", SANS).attr("font-size", 20).text("\u2212");
});
</script>
</body>
</html>
